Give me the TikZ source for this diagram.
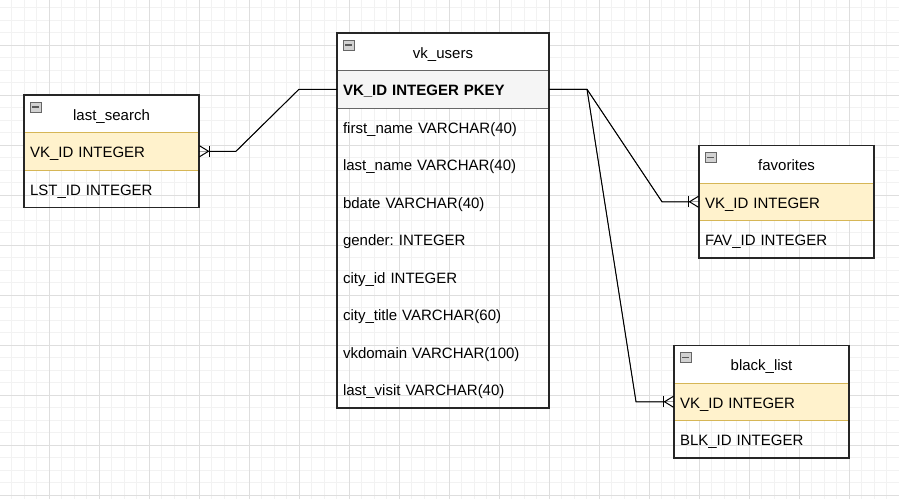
\documentclass[tikz,border=0pt]{standalone}
\usepackage{fontspec}
\setmainfont{Liberation Sans}
\frenchspacing
\usetikzlibrary{positioning,arrows.meta}
\definecolor{keyfill}{HTML}{FFF2CC}
\definecolor{keyline}{HTML}{D6B656}
\definecolor{pkfill}{HTML}{F5F5F5}
\definecolor{pkline}{HTML}{666666}
\definecolor{gridminor}{HTML}{F2F2F2}
\definecolor{gridmajor}{HTML}{DEDEDE}
\tikzset{
	every node/.style={font=\fontsize{15}{18}\selectfont, outer sep=0pt, inner xsep=6pt},
	head/.style={minimum height=37.5pt, fill=white, text height=15.5pt, text depth=3pt},
	row/.style={minimum height=37.5pt, text width=#1-12pt, align=left, text height=15.5pt, text depth=3pt},
	keyrow/.style={row=#1, fill=keyfill, draw=keyline, line width=0.8pt},
	pkrow/.style={row=#1, fill=pkfill, draw=pkline, line width=0.8pt, font=\fontsize{15}{18}\selectfont\bfseries},
	frame/.style={draw=black!85, line width=1.2pt},
	icon/.style={draw=gray!80!black, fill=gray!35, minimum width=11pt, minimum height=10pt, inner sep=0pt,
		path picture={\draw[line width=1.4pt, black!65] ([xshift=2pt]path picture bounding box.west) -- ([xshift=-2pt]path picture bounding box.east);}},
	rel/.style={line width=1pt, preaction={draw,-}, {Straight Barb[reversed,length=9pt,width=11pt,sep=0pt] Bar[width=11pt]}-}
}
\begin{document}
\begin{tikzpicture}[x=1pt,y=-1pt]
	\useasboundingbox[fill=white] (0,0) rectangle (899,499);
	% grid
	\foreach \x in {-1,11.5,...,899} \draw[gridminor, line width=0.6pt] (\x,0) -- (\x,499);
	\foreach \y in {-5,7.5,...,499} \draw[gridminor, line width=0.6pt] (0,\y) -- (899,\y);
	\foreach \x in {49,99,...,899} \draw[gridmajor, line width=0.7pt] (\x,0) -- (\x,499);
	\foreach \y in {45,95,...,499} \draw[gridmajor, line width=0.7pt] (0,\y) -- (899,\y);

	% last_search
	\node[head, minimum width=175pt] at (111.5,113.75)(ls){last\_search};
	\node[keyrow=175pt, below=0pt of ls](lsk){VK\_ID INTEGER};
	\node[row=175pt, below=0pt of lsk](lsl){LST\_ID INTEGER};
	\draw[frame] (ls.north west) rectangle (lsl.south east);
	\node[icon, anchor=north west] at ([shift={(6pt,-7pt)}]ls.north west){};

	% vk_users
	\node[head, minimum width=212pt] at (443,51.75)(vk){vk\_users};
	\node[pkrow=212pt, below=0pt of vk](vkk){VK\_ID INTEGER PKEY};
	\node[row=212pt, below=0pt of vkk](vk1){first\_name VARCHAR(40)};
	\node[row=212pt, below=0pt of vk1](vk2){last\_name VARCHAR(40)};
	\node[row=212pt, below=0pt of vk2](vk3){bdate VARCHAR(40)};
	\node[row=212pt, below=0pt of vk3](vk4){gender: INTEGER};
	\node[row=212pt, below=0pt of vk4](vk5){city\_id INTEGER};
	\node[row=212pt, below=0pt of vk5](vk6){city\_title VARCHAR(60)};
	\node[row=212pt, below=0pt of vk6](vk7){vkdomain VARCHAR(100)};
	\node[row=212pt, below=0pt of vk7](vk8){last\_visit VARCHAR(40)};
	\draw[frame] (vk.north west) rectangle (vk8.south east);
	\node[icon, anchor=north west] at ([shift={(6pt,-7pt)}]vk.north west){};

	% favorites
	\node[head, minimum width=175pt] at (786.5,164.25)(fv){favorites};
	\node[keyrow=175pt, below=0pt of fv](fvk){VK\_ID INTEGER};
	\node[row=175pt, below=0pt of fvk](fvl){FAV\_ID INTEGER};
	\draw[frame] (fv.north west) rectangle (fvl.south east);
	\node[icon, anchor=north west] at ([shift={(6pt,-7pt)}]fv.north west){};

	% black_list
	\node[head, minimum width=175pt] at (761.5,364.25)(bl){black\_list};
	\node[keyrow=175pt, below=0pt of bl](blk){VK\_ID INTEGER};
	\node[row=175pt, below=0pt of blk](bll){BLK\_ID INTEGER};
	\draw[frame] (bl.north west) rectangle (bll.south east);
	\node[icon, anchor=north west] at ([shift={(6pt,-7pt)}]bl.north west){};

	% relations
	\draw[rel] (lsk.east) -- ++(37,0) -- ([xshift=-38pt]vkk.west) -- (vkk.west);
	\draw[rel] (fvk.west) -- ++(-37,0) -- ([xshift=38pt]vkk.east) -- (vkk.east);
	\draw[rel] (blk.west) -- ++(-38,0) -- ([xshift=38pt]vkk.east) -- (vkk.east);
\end{tikzpicture}
\end{document}
